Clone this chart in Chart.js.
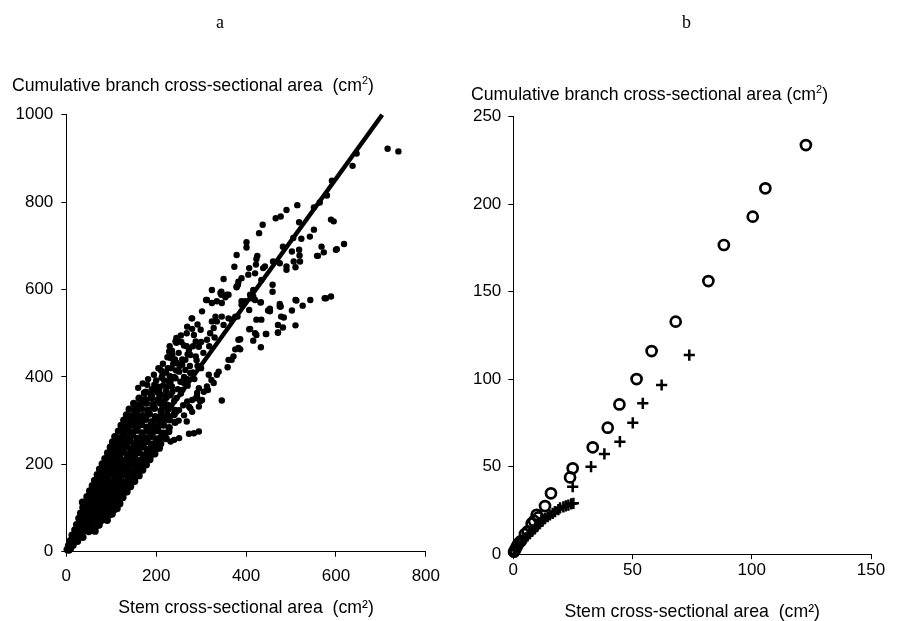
<!DOCTYPE html>
<html>
<head>
<meta charset="utf-8">
<script src="https://cdn.jsdelivr.net/npm/chart.js"></script>
<style>
  body { margin: 0; background: #fff; }
  #wrap { position: relative; width: 899px; height: 621px; overflow: hidden; background: #fff;
          font-family: 'Liberation Sans', Arial, sans-serif; color: #000; }
  canvas { position: absolute; top: 0; }
  #chartA { left: 0; }
  #chartB { left: 449px; }
  .panel { position: absolute; font-family: 'Liberation Serif', 'Times New Roman', serif; font-size: 18px; line-height: 1; }
  .ytitle { position: absolute; font-size: 17.7px; line-height: 1; white-space: pre; }
  .ytitle sup { font-size: 0.62em; vertical-align: 0.6em; line-height: 0; }
</style>
</head>
<body>
<div id="wrap">
  <canvas id="chartA" width="449" height="621"></canvas>
  <canvas id="chartB" width="450" height="621"></canvas>
  <div class="panel" style="left:216px; top:13px;">a</div>
  <div class="panel" style="left:682px; top:13px;">b</div>
  <div class="ytitle" style="left:12px; top:77px;">Cumulative branch cross-sectional area  (cm<sup>2</sup>)</div>
  <div class="ytitle" style="left:471px; top:86px;">Cumulative branch cross-sectional area (cm<sup>2</sup>)</div>
</div>
<script>
// ---- panel a: stem vs cumulative branch cross-sectional area (cm2) ----
const xTicksA = [0, 200, 400, 600, 800];
const yTicksA = [0, 200, 400, 600, 800, 1000];

// dense cloud near the origin, read row by row
const branchesA_dense = [
  [2,5],[6,4],[9,7],[5,14],[10,12],[15,15],[9,25],[14,22],[19,27],[25,24],
  [13,38],[19,35],[25,39],[31,36],[37,33],
  [19,50],[25,48],[31,52],[37,47],[43,51],[50,46],[57,49],[64,47],
  [23,62],[29,60],[35,64],[41,61],[47,63],[53,59],[59,62],[66,58],[73,61],
  [28,76],[34,73],[40,77],[46,74],[52,76],[58,72],[64,77],[70,74],[77,71],[84,74],[91,72],
  [32,88],[38,90],[45,86],[51,89],[57,85],[63,90],[69,87],[75,89],[81,85],[88,88],[95,84],[102,86],
  [37,101],[43,98],[50,102],[56,99],[62,103],[68,98],[74,101],[80,97],[86,102],[92,98],[99,101],[106,96],[113,99],
  [36,113],[42,110],[49,114],[55,111],[61,115],[67,110],[73,113],[79,109],[86,114],[92,110],[98,113],[105,108],[112,111],[119,110],
  [46,126],[53,123],[60,127],[66,124],[73,128],[80,122],[86,126],[92,123],[99,127],[105,122],[112,125],[119,121],[126,124],
  [52,139],[58,136],[65,140],[72,137],[79,139],[86,135],[93,140],[100,136],[107,139],[114,134],[121,138],[128,135],[135,137],
  [58,151],[66,149],[73,153],[80,148],[87,152],[94,147],[101,151],[108,148],[115,152],[122,147],[129,150],[136,146],[143,149],
  [63,163],[71,160],[78,164],[86,161],[93,165],[100,159],[108,163],[115,160],[122,164],[129,158],[137,162],[145,159],[152,161],
  [69,176],[77,173],[85,177],[92,174],[100,178],[108,172],[115,176],[122,173],[130,177],[138,171],[146,175],[154,172],[162,174],
  [74,189],[82,186],[90,190],[98,187],[106,191],[114,185],[121,189],[129,186],[137,190],[145,184],[153,188],[161,185],[170,187],
  [80,201],[88,198],[96,202],[104,199],[112,203],[120,197],[128,201],[136,198],[145,202],[153,196],[161,200],[169,197],[178,199],
  [86,213],[94,210],[102,214],[111,211],[119,215],[127,209],[136,213],[144,210],[152,214],[161,208],[170,212],[178,209],[186,211],
  [92,226],[101,223],[110,227],[118,224],[127,228],[136,222],[145,226],[153,223],[162,227],[171,221],[180,225],[189,222],[197,224],
  [98,239],[107,236],[116,240],[125,237],[134,241],[143,235],[152,239],[161,236],[171,240],[180,234],[190,238],[199,235],[207,237],
  [103,251],[113,248],[122,252],[132,249],[141,253],[151,247],[160,251],[170,248],[180,252],[190,246],[200,250],[210,247],
  [108,263],[118,260],[128,264],[138,261],[148,265],[158,259],[168,263],[178,260],[189,264],[200,258],[211,262],[222,259],
  [116,276],[126,273],[136,277],[147,274],[158,278],[169,272],[180,276],[192,273],[204,277],[216,271],[228,275],
  [122,289],[132,286],[143,290],[155,287],[167,291],[179,285],[191,289],[203,286],[216,290],[229,284],
  [128,301],[139,298],[150,302],[163,299],[176,303],[189,297],[202,301],[215,298],[229,302],[242,296],
  [134,313],[146,310],[158,314],[171,311],[184,315],[198,309],[212,313],[226,310],[240,314],
  [140,326],[153,323],[167,327],[181,324],[196,328],[211,322],[226,326],[242,323],
  [150,339],[164,336],[178,340],[193,337],[208,341],[224,335],
  [162,351],[176,348],[190,352],[206,349],[222,353],
  [174,363],[189,360],[205,364]
];

// scattered points further out, read one by one
const branchesA_outer = [
  [715,922],[739,916],[646,911],[637,883],[591,849],[580,815],[564,799],[551,788],[514,793],[490,782],
  [477,767],[466,763],[437,748],[429,729],[518,754],[589,760],[595,756],[551,737],[542,721],[523,716],
  [505,718],[618,704],[602,692],[568,698],[573,685],[558,677],[401,708],[401,696],[379,679],[425,677],
  [423,670],[482,698],[502,687],[518,691],[519,678],[520,664],[506,664],[510,651],[490,653],[490,645],
  [475,660],[460,664],[442,653],[438,649],[422,657],[407,649],[374,652],[420,637],[405,634],[390,626],
  [383,618],[379,607],[434,622],[459,611],[459,595],[416,599],[409,588],[412,580],[390,573],[432,570],
  [475,567],[453,556],[512,575],[526,563],[543,576],[575,580],[589,584],[361,588],[560,677],[600,691],
  [350,624],[324,599],[345,595],[345,588],[354,582],[311,576],[302,550],[279,534],[269,515],[245,489],
  [299,508],[332,538],[324,527],[350,519],[368,531],[381,538],[407,553],[449,552],[475,561],[502,552],
  [471,519],[471,502],[484,536],[482,513],[510,518],[444,498],[423,496],[416,483],[433,468],[407,509],
  [383,466],[387,486],[382,611],[379,605],[343,592],[357,588],[313,576],[324,569],[335,573],[346,569],
  [416,584],[420,576],[398,573],[390,565],[433,571],[477,561],[453,550],[510,576],[578,580],[478,538],
  [423,531],[434,531],[409,510],[420,500],[387,463],[376,463],[372,447],[368,439],[359,422],[339,412],
  [335,405],[323,393],[328,386],[315,370],[295,374],[291,363],[346,346],[295,275],[284,271],[273,270],
  [251,260],[240,256],[232,252],[280,534],[247,489],[243,481],[229,458],[232,443],[210,416],[214,405],
  [196,382],[174,363],[170,347],[155,336],[151,324],[335,527],[328,512],[320,500],[313,485],[346,538],
  [361,534],[376,538],[284,496],[288,481],[295,469],[273,462],[276,450],[288,447],[265,439],[258,428],
  [265,416],[276,409],[251,412],[243,397],[254,389],[262,386],[232,389],[225,378],[236,366],[221,355],
  [207,370],[203,347],[214,332],[192,332],[185,317],[229,302],[251,324],[269,344],[291,355],[298,344],
  [317,405],[313,378],[306,366],[273,332],[280,347],[302,347],[288,351],[276,328],[295,332],[361,439],
  [236,450],[214,412],[203,378],[177,366],[155,332],[445,498],[471,501],[383,485],
  [218,392],[230,402],[244,415],[258,440],[270,452],[282,470],[300,480],[262,472],[250,455],[238,430],
  [226,420],[248,372],[262,400],[275,425],[290,438],[305,455],[318,470],[330,490],[300,420],[285,395],
  [270,380],[255,362],[240,345],[228,335],
  [160,375],[170,385],[182,395],[195,405],[205,420],[215,430],[225,445],[235,460],[190,372],[200,392],
  [212,398],[222,410],[234,420],[246,432],[268,470],[180,382],[200,370],[215,380],[228,390],[240,400],
  [252,425],[242,440],[230,470],[245,478],[255,495],[268,500],[280,510],[292,520],[256,480],[210,360],
  [222,368],[235,378],[218,345],[232,358],[245,352],[258,370],[270,395],[282,410],[292,425],[250,300],
  [262,312],[268,298],[280,320],[260,335],[245,320]
];

// fitted line through the cloud
const fitA = [[0, 0], [703, 1000]];

// ---- panel b ----
const xTicksB = [0, 50, 100, 150];
const yTicksB = [0, 50, 100, 150, 200, 250];

const branchesB_circles = [
  [0.3,1.4],[0.8,2.5],[1.4,4.3],[2.1,6],[3.2,7.5],[4.9,11.5],[6,13],[7.7,17.5],[8.7,19],[9.8,22.5],
  [10.5,21],[13.3,27.5],[15.8,34.8],[23.8,43.9],[24.9,49.1],[33.3,61.1],[39.6,72.3],[44.5,85.6],
  [51.7,100.1],[58,116.1],[68.1,132.9],[81.8,156.1],[88.3,176.7],[100.4,192.9],[105.7,209.1],[122.7,233.8]
];

const branchesB_crosses = [
  [0.7,2.4],[1.4,3.8],[2.1,5.3],[3.5,7.1],[4.9,9.1],[6,10.5],[7,11.9],[8,13.3],[9.1,14.8],[10.2,16.2],
  [11.2,17.7],[12.3,19.1],[13.3,20.5],[14.4,21.4],[15.4,22.4],[16.5,23.3],[17.5,24.3],[18.9,25.5],
  [19.6,26.5],[21,27.1],[22,27.6],[23.1,28.1],[24.3,28.8],[25.2,29.1],[24.9,38.6],[32.6,50],[38.2,57.3],
  [44.7,64.3],[50.1,75.1],[54.3,86.2],[62.2,96.7],[73.8,113.8]
];

Chart.defaults.font.family = "'Liberation Sans', Arial, sans-serif";
Chart.defaults.color = '#000';

function toXY(list) {
  return list.map(p => ({ x: p[0], y: p[1] }));
}

function axis(min, max, ticks, opts) {
  return {
    type: 'linear',
    min: min,
    max: max,
    afterBuildTicks: a => { a.ticks = ticks.map(v => ({ value: v })); },
    afterFit: a => { if (opts.width) a.width = opts.width; if (opts.height) a.height = opts.height; },
    grid: { drawOnChartArea: false, drawTicks: true, tickLength: 5, color: '#000', lineWidth: 1 },
    border: { display: true, color: '#000', width: 1 },
    ticks: { padding: opts.pad, font: { size: 17 }, color: '#000', callback: v => String(v) },
    title: opts.title ? {
      display: true, text: opts.title, color: '#000',
      font: { size: 17.7, lineHeight: 1 }, padding: { top: 0, bottom: opts.titlePad }
    } : { display: false }
  };
}

new Chart(document.getElementById('chartA'), {
  type: 'scatter',
  data: {
    datasets: [
      { data: toXY(fitA), showLine: true, borderColor: '#000', borderWidth: 4.5, pointRadius: 0, clip: false },
      { data: toXY(branchesA_dense), pointRadius: 3.7, pointBackgroundColor: '#000', pointBorderWidth: 0, clip: false },
      { data: toXY(branchesA_outer), pointRadius: 3.2, pointBackgroundColor: '#000', pointBorderWidth: 0, clip: false }
    ]
  },
  options: {
    responsive: false,
    animation: false,
    devicePixelRatio: 1,
    layout: { padding: { top: 114.7, right: 20, bottom: 0, left: 0 } },
    plugins: { legend: { display: false }, tooltip: { enabled: false } },
    scales: {
      x: axis(0, 800, xTicksA, { height: 69.3, pad: 9, title: 'Stem cross-sectional area  (cm²)', titlePad: 4 }),
      y: axis(0, 1000, yTicksA, { width: 66.3, pad: 8 })
    }
  }
});

new Chart(document.getElementById('chartB'), {
  type: 'scatter',
  data: {
    datasets: [
      { data: toXY(branchesB_circles), pointStyle: 'circle', pointRadius: 5, pointBorderWidth: 2.7,
        pointBorderColor: '#000', pointBackgroundColor: 'rgba(0,0,0,0)', clip: false },
      { data: toXY(branchesB_crosses), pointStyle: 'cross', pointRadius: 5.6, pointBorderWidth: 2.5,
        pointBorderColor: '#000', clip: false }
    ]
  },
  options: {
    responsive: false,
    animation: false,
    devicePixelRatio: 1,
    layout: { padding: { top: 116.7, right: 28, bottom: 0, left: 0 } },
    plugins: { legend: { display: false }, tooltip: { enabled: false } },
    scales: {
      x: axis(0, 150, xTicksB, { height: 66.8, pad: 1, title: 'Stem cross-sectional area  (cm²)', titlePad: 0 }),
      y: axis(0, 250, yTicksB, { width: 64.3, pad: 7 })
    }
  }
});
</script>
</body>
</html>
